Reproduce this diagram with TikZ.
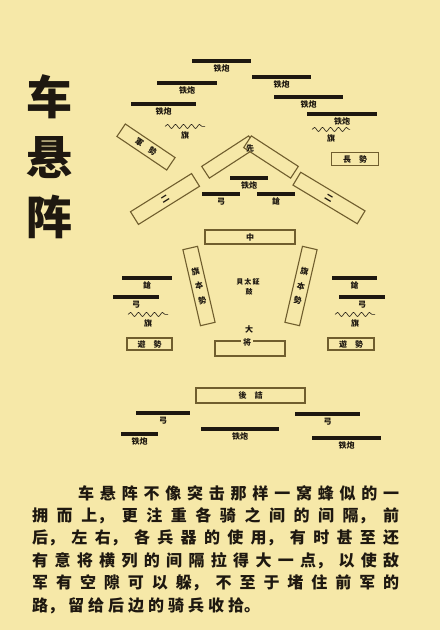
\documentclass[tikz,border=0pt]{standalone}
\usepackage{fontspec}
\setmainfont{Noto Sans CJK SC}
\usetikzlibrary{decorations.pathmorphing}
\XeTeXlinebreaklocale "zh"
\XeTeXlinebreakskip=4pt plus 10pt
\definecolor{paper}{RGB}{246,232,168}
\definecolor{edge}{RGB}{112,94,46}
\definecolor{ink}{RGB}{30,24,16}
\begin{document}
\begin{tikzpicture}[x=1pt, y=-1pt,
    box/.style={draw=edge, line width=1.1pt, fill=paper, minimum height=14pt, inner sep=0pt, text=ink, font=\fontsize{8}{9}\selectfont\bfseries},
    bar/.style={fill=ink, minimum height=4pt, inner sep=0pt},
    tag/.style={text=ink, inner sep=0.5pt, font=\fontsize{8}{9}\selectfont\bfseries},
    wave/.style={draw=ink, line width=0.6pt, decorate, decoration={snake, segment length=8pt, amplitude=2pt}},
    every label/.style={tag}, label distance=1pt]
    \fill[paper] (0,0) rectangle (440,630);
    \node[inner sep=0pt, align=center, text=ink, font=\fontsize{46}{60}\selectfont\bfseries] (title) at (50,157) {车\\悬\\阵};

    \node[bar, minimum width=59pt, label=below:铁炮] (gunA) at (221.5,61) {};
    \node[bar, minimum width=59pt, label=below:铁炮] (gunB) at (281.5,77) {};
    \node[bar, minimum width=60pt, label=below:铁炮] (gunC) at (187,83) {};
    \node[bar, minimum width=69pt, label=below:铁炮] (gunD) at (308.5,97) {};
    \node[bar, minimum width=65pt, label=below:铁炮] (gunE) at (163.5,104) {};
    \node[bar, minimum width=70pt, label=below:铁炮] (gunF) at (342,114) {};
    \node[tag] (flagA) at (185,135) {旗};
    \node[tag] (flagB) at (331,138) {旗};
    \draw[wave] ([xshift=-20pt, yshift=4pt]flagA.north) -- ++(40,0);
    \draw[wave] ([xshift=-19pt, yshift=4pt]flagB.north) -- ++(38,0);

    \node[box, rotate=-34, minimum width=60pt, minimum height=15pt] (wingL) at (146,147) {軍\quad 勢};
    \node[box, minimum width=47pt, minimum height=13pt] (wingR) at (355,159) {長\quad 勢};
    \node[box, rotate=33, minimum width=56pt] (vanL) at (229,157) {};
    \node[box, rotate=-33, minimum width=56pt] (vanR) at (271,157) {};
    \node[tag] (van) at (250,148) {先};

    \node[bar, minimum width=38pt, label=below:铁炮] (gunG) at (249,178) {};
    \node[bar, minimum width=38pt, label=below:弓] (bowA) at (221,194) {};
    \node[bar, minimum width=38pt, label=below:鎗] (spearA) at (276,194) {};

    \node[box, rotate=32, minimum width=72pt, minimum height=15pt] (secL) at (165,199) {二};
    \node[box, rotate=-31, minimum width=75pt, minimum height=15pt] (secR) at (329,198) {二};
    \node[box, minimum width=90pt] (mid) at (250,237) {中};

    \node[box, rotate=13, minimum width=15pt, minimum height=78pt, align=center] (guardL) at (199,286) {旗\\[6pt]本\\[6pt]勢};
    \node[box, rotate=-13, minimum width=15pt, minimum height=78pt, align=center] (guardR) at (301,286) {旗\\[6pt]本\\[6pt]勢};
    \node[tag, font=\fontsize{7}{8}\selectfont\bfseries] (drums) at (248,282) {貝\,太\,鉦};
    \node[tag, font=\fontsize{7}{8}\selectfont\bfseries] (drum) at (249,292) {鼓};

    \node[bar, minimum width=50pt, label=below:鎗] (spearB) at (147,278) {};
    \node[bar, minimum width=46pt, label=below:弓] (bowB) at (136,297) {};
    \node[tag] (flagC) at (148,323) {旗};
    \draw[wave] ([xshift=-20pt, yshift=4pt]flagC.north) -- ++(40,0);
    \node[box, minimum width=45pt, minimum height=12pt] (roamL) at (149.5,344) {遊\quad 勢};

    \node[bar, minimum width=45pt, label=below:鎗] (spearC) at (354.5,278) {};
    \node[bar, minimum width=46pt, label=below:弓] (bowC) at (362,297) {};
    \node[tag] (flagD) at (355,323) {旗};
    \draw[wave] ([xshift=-20pt, yshift=4pt]flagD.north) -- ++(40,0);
    \node[box, minimum width=46pt, minimum height=12pt] (roamR) at (351,344) {遊\quad 勢};

    \node[tag] (chief) at (249,329) {大};
    \node[box, minimum width=70pt, minimum height=15pt] (camp) at (250,348.5) {};
    \node[tag, fill=paper, inner sep=2pt] (general) at (247,342) {将};

    \node[box, minimum width=109pt, minimum height=15pt] (rear) at (250.5,395.5) {後\quad 詰};

    \node[bar, minimum width=54pt, label=below:弓] (bowD) at (163,413) {};
    \node[bar, minimum width=37pt, label=below:铁炮] (gunH) at (139.5,434) {};
    \node[bar, minimum width=78pt, label=below:铁炮] (gunI) at (240,429) {};
    \node[bar, minimum width=65pt, label=below:弓] (bowE) at (327.5,414) {};
    \node[bar, minimum width=69pt, label=below:铁炮] (gunJ) at (346.5,438) {};

    \node[anchor=north west, text width=367pt, align=justify, inner sep=0pt, text=ink, font=\fontsize{16}{22.4}\selectfont\bfseries] (story) at (32,485) {\hspace*{46pt}车悬阵不像突击那样一窝蜂似的一\linebreak 拥而上，更注重各骑之间的间隔，前\linebreak 后，左右，各兵器的使用，有时甚至还\linebreak 有意将横列的间隔拉得大一点，以使敌\linebreak 军有空隙可以躲，不至于堵住前军的\linebreak 路，留给后边的骑兵收拾。};
\end{tikzpicture}
\end{document}
